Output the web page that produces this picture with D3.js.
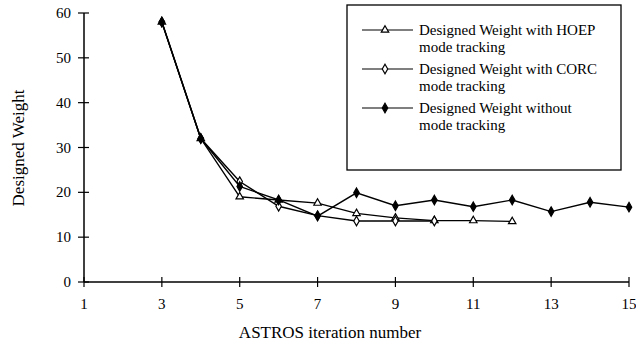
<!DOCTYPE html>
<html>
<head>
<meta charset="utf-8">
<script src="https://cdn.jsdelivr.net/npm/d3@7"></script>
<style>
  body { margin: 0; background: #fff; }
  text { font-family: "Liberation Serif", "Times New Roman", serif; fill: #000; }
</style>
</head>
<body>
<div id="chart"></div>
<script>
var xTicks = [1, 3, 5, 7, 9, 11, 13, 15];
var yTicks = [0, 10, 20, 30, 40, 50, 60];

var hoepIter = [3, 4, 5, 6, 7, 8, 9, 10, 11, 12];
var hoepWeight = [58, 32, 19, 18.3, 17.6, 15.3, 14.3, 13.7, 13.7, 13.5];

var corcIter = [3, 4, 5, 6, 7, 8, 9, 10];
var corcWeight = [58, 32, 22.4, 16.9, 14.8, 13.6, 13.6, 13.6];

var noneIter = [3, 4, 5, 6, 7, 8, 9, 10, 11, 12, 13, 14, 15];
var noneWeight = [58, 32, 21.3, 18.3, 14.7, 19.9, 17, 18.3, 16.8, 18.3, 15.7, 17.8, 16.7];

var seriesNames = [
    ["Designed Weight with HOEP", "mode tracking"],
    ["Designed Weight with CORC", "mode tracking"],
    ["Designed Weight without", "mode tracking"]
];

var width = 636, height = 347;

var svg = d3.select('#chart').append('svg')
    .attr('width', width)
    .attr('height', height);

var x = d3.scaleLinear().domain([1, 15]).range([84, 629]),
    y = d3.scaleLinear().domain([0, 60]).range([282, 13]);

// axes, ticks cross the line
var xAxis = svg.append('g').attr('transform', 'translate(0,282)');
xAxis.append('line').attr('x1', x(1)).attr('x2', x(15))
    .attr('stroke', '#000').attr('stroke-width', 1.5);
xAxis.selectAll('.tk').data(xTicks).enter().append('line')
    .attr('x1', d => x(d)).attr('x2', d => x(d))
    .attr('y1', -5).attr('y2', 5)
    .attr('stroke', '#000').attr('stroke-width', 1.2);
xAxis.selectAll('.lb').data(xTicks).enter().append('text')
    .attr('x', d => x(d)).attr('y', 27)
    .attr('text-anchor', 'middle')
    .style('font-size', '15px')
    .text(d => d);

var yAxis = svg.append('g').attr('transform', 'translate(84,0)');
yAxis.append('line').attr('y1', y(0)).attr('y2', y(60))
    .attr('stroke', '#000').attr('stroke-width', 1.5);
yAxis.selectAll('.tk').data(yTicks).enter().append('line')
    .attr('y1', d => y(d)).attr('y2', d => y(d))
    .attr('x1', -6).attr('x2', 5)
    .attr('stroke', '#000').attr('stroke-width', 1.2);
yAxis.selectAll('.lb').data(yTicks).enter().append('text')
    .attr('x', -13).attr('y', d => y(d) + 5)
    .attr('text-anchor', 'end')
    .style('font-size', '15px')
    .text(d => d);

svg.append('text')
    .attr('x', 330).attr('y', 338)
    .attr('text-anchor', 'middle')
    .style('font-size', '17px')
    .text('ASTROS iteration number');

svg.append('text')
    .attr('transform', 'translate(24,148) rotate(-90)')
    .attr('text-anchor', 'middle')
    .style('font-size', '17px')
    .text('Designed Weight');

// markers
var tri = d3.symbol().type(d3.symbolTriangle).size(24),
    dia = d3.symbol().type(d3.symbolDiamond).size(26);

function marker(g, kind, cx, cy) {
    var p = g.append('path')
        .attr('transform', 'translate(' + cx + ',' + cy + ')')
        .attr('stroke', '#000').attr('stroke-width', 1.2);
    if (kind === 'tri') p.attr('d', tri()).attr('fill', '#fff');
    if (kind === 'odia') p.attr('d', dia()).attr('fill', '#fff');
    if (kind === 'fdia') p.attr('d', dia()).attr('fill', '#000');
}

var line = d3.line().x(d => x(d[0])).y(d => y(d[1]));

function drawSeries(iters, vals, kind) {
    var pts = d3.zip(iters, vals);
    var g = svg.append('g');
    g.append('path').datum(pts)
        .attr('d', line)
        .attr('fill', 'none')
        .attr('stroke', '#000')
        .attr('stroke-width', 1.4);
    pts.forEach(function(p) { marker(g, kind, x(p[0]), y(p[1])); });
}

drawSeries(hoepIter, hoepWeight, 'tri');
drawSeries(corcIter, corcWeight, 'odia');
drawSeries(noneIter, noneWeight, 'fdia');

// legend
var legend = svg.append('g');
legend.append('rect')
    .attr('x', 347).attr('y', 5)
    .attr('width', 274).attr('height', 165)
    .attr('fill', '#fff')
    .attr('stroke', '#000').attr('stroke-width', 1.3);

var kinds = ['tri', 'odia', 'fdia'];
seriesNames.forEach(function(lines, i) {
    var cy = 30 + i * 39;
    legend.append('line')
        .attr('x1', 362).attr('x2', 413)
        .attr('y1', cy).attr('y2', cy)
        .attr('stroke', '#000').attr('stroke-width', 1.2);
    marker(legend, kinds[i], 385, cy);
    lines.forEach(function(t, j) {
        legend.append('text')
            .attr('x', 419).attr('y', cy + 5 + j * 17)
            .style('font-size', '15px')
            .text(t);
    });
});
</script>
</body>
</html>
